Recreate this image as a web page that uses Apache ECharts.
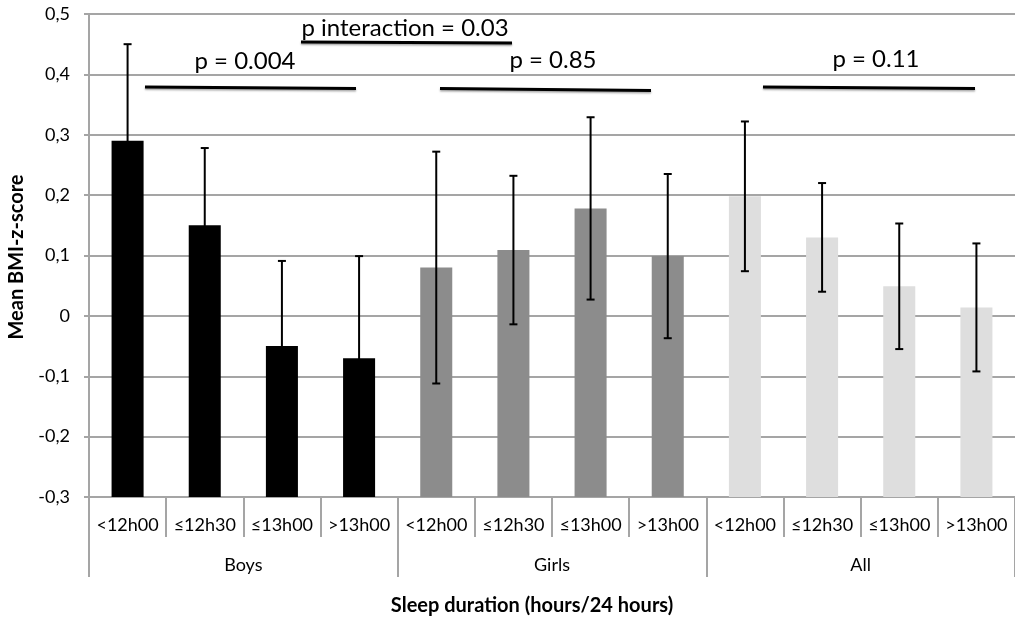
<!DOCTYPE html>
<html>
<head>
<meta charset="utf-8">
<script src="https://cdn.jsdelivr.net/npm/echarts@6/dist/echarts.min.js"></script>
<style>
html,body{margin:0;padding:0;background:#fff;}
#chart{width:1015px;height:621px;}
</style>
</head>
<body>
<div id="chart"></div>
<script>
// ---- data ----
const sleepCats = ['<12h00', '\u226412h30', '\u226413h00', '>13h00'];
const groups = ['Boys', 'Girls', 'All'];
const boysMean = [0.29, 0.15, -0.05, -0.07];
const girlsMean = [0.08, 0.109, 0.178, 0.099];
const allMean = [0.198, 0.13, 0.049, 0.014];
const boysErr = [0.16, 0.128, 0.141, 0.169];
const girlsErr = [0.192, 0.123, 0.151, 0.136];
const allErr = [0.124, 0.09, 0.104, 0.106];
const yTicks = [-0.3, -0.2, -0.1, 0, 0.1, 0.2, 0.3, 0.4, 0.5];
const groupColors = ['#000000', '#8c8c8c', '#dedede'];

// ---- build ----
const means = [boysMean, girlsMean, allMean];
const errs = [boysErr, girlsErr, allErr];
const xLabels = [];
const barData = [];
const errData = [];
groups.forEach((g, gi) => {
  sleepCats.forEach((c, ci) => {
    const idx = xLabels.length;
    xLabels.push(c);
    barData.push([idx, means[gi][ci], gi]);
    errData.push([idx, means[gi][ci] - errs[gi][ci], means[gi][ci] + errs[gi][ci]]);
  });
});
const yMin = yTicks[0], yMax = yTicks[yTicks.length - 1];
const grid = '#a5a5a5';
const font = 'Lato, "Open Sans", sans-serif';

const chart = echarts.init(document.getElementById('chart'), null, {renderer: 'canvas'});
chart.setOption({
  animation: false,
  backgroundColor: '#fff',
  grid: {left: 89, right: 0, top: 14, bottom: 124, containLabel: false},
  xAxis: [{
    type: 'category',
    data: xLabels,
    position: 'bottom',
    axisLine: {show: true, onZero: false, lineStyle: {color: grid, width: 2}},
    axisTick: {show: true, interval: 0, length: 40, lineStyle: {color: grid, width: 2}},
    axisLabel: {interval: 0, margin: 19, fontSize: 18, color: '#000', fontFamily: font},
    splitLine: {show: false}
  }, {
    type: 'category',
    data: groups,
    position: 'bottom',
    offset: 0,
    axisLine: {show: false, onZero: false},
    axisTick: {show: true, interval: 0, length: 80, lineStyle: {color: grid, width: 2}},
    axisLabel: {interval: 0, margin: 59, fontSize: 18, color: '#000', fontFamily: font},
    splitLine: {show: false}
  }],
  yAxis: {
    type: 'value',
    min: yMin, max: yMax, interval: 0.1,
    axisLine: {show: true, lineStyle: {color: grid, width: 2}},
    axisTick: {show: true, length: 5, lineStyle: {color: grid, width: 2}},
    axisLabel: {
      margin: 19, fontSize: 18, color: '#000', fontFamily: font,
      formatter: v => {
        const r = Math.round(v * 10) / 10;
        return r === 0 ? '0' : r.toFixed(1).replace('.', ',');
      }
    },
    splitLine: {show: true, lineStyle: {color: grid, width: 2}}
  },
  series: [{
    type: 'custom',
    xAxisIndex: 0,
    z: 3,
    data: barData,
    encode: {x: 0, y: 1},
    renderItem: (params, api) => {
      const i = api.value(0);
      const top = api.coord([i, api.value(1)]);
      const base = api.coord([i, yMin]);
      const w = api.size([1, 0])[0] * 0.415;
      return {
        type: 'rect',
        shape: {x: top[0] - w / 2, y: top[1], width: w, height: base[1] - top[1]},
        style: {fill: groupColors[api.value(2)]}
      };
    }
  }, {
    type: 'custom',
    xAxisIndex: 0,
    z: 4,
    data: errData,
    encode: {x: 0, y: [1, 2]},
    renderItem: (params, api) => {
      const i = api.value(0);
      const lo = api.coord([i, api.value(1)]);
      const hi = api.coord([i, api.value(2)]);
      const c = 4;
      const st = {stroke: '#000', lineWidth: 2};
      return {
        type: 'group',
        children: [
          {type: 'line', shape: {x1: hi[0], y1: hi[1], x2: lo[0], y2: lo[1]}, style: st},
          {type: 'line', shape: {x1: hi[0] - c, y1: hi[1], x2: hi[0] + c, y2: hi[1]}, style: st},
          {type: 'line', shape: {x1: lo[0] - c, y1: lo[1], x2: lo[0] + c, y2: lo[1]}, style: st}
        ]
      };
    }
  }],
  graphic: [
    {type: 'text', x: 17, y: 257, rotation: Math.PI / 2, z: 10,
      style: {text: 'Mean BMI-z-score', font: 'bold 20px ' + font, fill: '#000', align: 'center', verticalAlign: 'middle'}},
    {type: 'text', x: 532, y: 606, z: 10,
      style: {text: 'Sleep duration (hours/24 hours)', font: 'bold 20px ' + font, fill: '#000', align: 'center', verticalAlign: 'middle'}},
    {type: 'text', x: 405, y: 28, z: 10,
      style: {text: 'p interaction = 0.03', font: '24px ' + font, fill: '#000', align: 'center', verticalAlign: 'middle'}},
    {type: 'text', x: 245, y: 61, z: 10,
      style: {text: 'p = 0.004', font: '24px ' + font, fill: '#000', align: 'center', verticalAlign: 'middle'}},
    {type: 'text', x: 553, y: 60, z: 10,
      style: {text: 'p = 0.85', font: '24px ' + font, fill: '#000', align: 'center', verticalAlign: 'middle'}},
    {type: 'text', x: 876, y: 59, z: 10,
      style: {text: 'p = 0.11', font: '24px ' + font, fill: '#000', align: 'center', verticalAlign: 'middle'}},
    {type: 'line', z: 10, shape: {x1: 301, y1: 42, x2: 512, y2: 43},
      style: {stroke: '#000', lineWidth: 3, shadowBlur: 2, shadowOffsetY: 1.5, shadowColor: 'rgba(0,0,0,0.35)'}},
    {type: 'line', z: 10, shape: {x1: 145, y1: 87, x2: 356, y2: 88.5},
      style: {stroke: '#000', lineWidth: 3, shadowBlur: 2, shadowOffsetY: 1.5, shadowColor: 'rgba(0,0,0,0.35)'}},
    {type: 'line', z: 10, shape: {x1: 440, y1: 88.5, x2: 651, y2: 90.5},
      style: {stroke: '#000', lineWidth: 3, shadowBlur: 2, shadowOffsetY: 1.5, shadowColor: 'rgba(0,0,0,0.35)'}},
    {type: 'line', z: 10, shape: {x1: 763, y1: 87, x2: 975, y2: 88.5},
      style: {stroke: '#000', lineWidth: 3, shadowBlur: 2, shadowOffsetY: 1.5, shadowColor: 'rgba(0,0,0,0.35)'}}
  ]
});
</script>
</body>
</html>
